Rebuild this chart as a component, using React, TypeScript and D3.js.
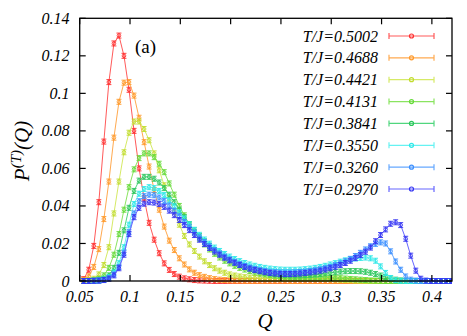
import React from "react";
import * as d3 from "d3";

// Q grid: 0.054, 0.059, ... 0.419 (74 points)
const qStart = 0.054;
const qStep = 0.005;

const temps = ["0.5002", "0.4688", "0.4421", "0.4131", "0.3841", "0.3550", "0.3260", "0.2970"];

const p5002 = [
  0.001, 0.006, 0.0187, 0.042, 0.0743, 0.106, 0.1266, 0.1308, 0.12, 0.1019,
  0.08, 0.06, 0.044, 0.031, 0.022, 0.0148, 0.0094, 0.0059, 0.0037, 0.0023,
  0.0014, 0.0009, 0.0005, 0.0003, 0.0002, 0.0001, 0, 0, 0, 0,
  0, 0, 0, 0, 0, 0, 0, 0, 0, 0,
  0, 0, 0, 0, 0, 0, 0, 0, 0, 0,
  0, 0, 0, 0, 0, 0, 0, 0, 0, 0,
  0, 0, 0, 0, 0, 0, 0, 0, 0, 0,
  0, 0, 0, 0,
];
const p4688 = [
  0.0006, 0.0025, 0.0075, 0.017, 0.033, 0.053, 0.0764, 0.0955, 0.1057, 0.106,
  0.0988, 0.087, 0.074, 0.061, 0.0485, 0.038, 0.029, 0.0215, 0.0165, 0.0121,
  0.0088, 0.0062, 0.0044, 0.0031, 0.0022, 0.0015, 0.001, 0.0007, 0.0005, 0.0003,
  0.0002, 0.0002, 0.0001, 0.0001, 0.0001, 0.0001, 0.0001, 0.0001, 0.0001, 0.0001,
  0.0001, 0, 0, 0, 0, 0, 0, 0, 0, 0,
  0, 0, 0, 0, 0, 0, 0, 0, 0, 0,
  0, 0, 0, 0, 0, 0, 0, 0, 0, 0,
  0, 0, 0, 0,
];
const p4421 = [
  0.0001, 0.0003, 0.0012, 0.0035, 0.0085, 0.018, 0.036, 0.053, 0.0686, 0.079,
  0.085, 0.085, 0.081, 0.075, 0.068, 0.059, 0.051, 0.044, 0.037, 0.03,
  0.024, 0.0195, 0.016, 0.013, 0.0105, 0.0085, 0.0068, 0.0055, 0.0044, 0.0035,
  0.0029, 0.0024, 0.002, 0.0018, 0.0016, 0.0015, 0.0014, 0.0014, 0.0013, 0.0013,
  0.0013, 0.0013, 0.0013, 0.0013, 0.0013, 0.0013, 0.0012, 0.0012, 0.0011, 0.001,
  0.0009, 0.0007, 0.0005, 0.0004, 0.0002, 0.0001, 0, 0, 0, 0,
  0, 0, 0, 0, 0, 0, 0, 0, 0, 0,
  0, 0, 0, 0,
];
const p4131 = [
  0, 0.0001, 0.0004, 0.0012, 0.003, 0.007, 0.014, 0.025, 0.038, 0.05,
  0.0595, 0.0655, 0.068, 0.068, 0.066, 0.0625, 0.058, 0.052, 0.046, 0.04,
  0.035, 0.03, 0.026, 0.0225, 0.0195, 0.0168, 0.0145, 0.0125, 0.0108, 0.0094,
  0.0081, 0.007, 0.0061, 0.0053, 0.0046, 0.004, 0.0035, 0.0031, 0.0028, 0.0025,
  0.0023, 0.0022, 0.0021, 0.002, 0.002, 0.002, 0.002, 0.002, 0.0019, 0.0018,
  0.0017, 0.0015, 0.0013, 0.0011, 0.0009, 0.0007, 0.0005, 0.0003, 0.0002, 0.0001,
  0, 0, 0, 0, 0, 0, 0, 0, 0, 0,
  0, 0, 0, 0,
];
const p3841 = [
  0, 0, 0.0001, 0.0004, 0.0012, 0.003, 0.007, 0.015, 0.027, 0.039,
  0.048, 0.0535, 0.0555, 0.0555, 0.0545, 0.0525, 0.0495, 0.046, 0.042, 0.038,
  0.034, 0.0303, 0.027, 0.024, 0.0212, 0.0188, 0.0165, 0.0145, 0.0128, 0.0113,
  0.01, 0.0088, 0.0077, 0.0067, 0.0059, 0.0052, 0.0045, 0.004, 0.0036, 0.0033,
  0.0031, 0.003, 0.003, 0.003, 0.0031, 0.0033, 0.0035, 0.0038, 0.0041, 0.0044,
  0.0047, 0.005, 0.0052, 0.0053, 0.0053, 0.0052, 0.0049, 0.0044, 0.0037, 0.0029,
  0.0021, 0.0013, 0.0007, 0.0003, 0.0001, 0, 0, 0, 0, 0,
  0, 0, 0, 0,
];
const p3550 = [
  0, 0, 0.0001, 0.0003, 0.0008, 0.002, 0.0045, 0.0095, 0.018, 0.03,
  0.041, 0.0465, 0.049, 0.05, 0.0495, 0.048, 0.0458, 0.043, 0.0398, 0.0365,
  0.0333, 0.0302, 0.0273, 0.0246, 0.0221, 0.0199, 0.0178, 0.016, 0.0144, 0.013,
  0.0117, 0.0106, 0.0096, 0.0088, 0.0081, 0.0075, 0.007, 0.0066, 0.0063, 0.0061,
  0.006, 0.006, 0.006, 0.0061, 0.0063, 0.0066, 0.007, 0.0075, 0.0081, 0.0088,
  0.0095, 0.0103, 0.011, 0.0116, 0.012, 0.0123, 0.0125, 0.0121, 0.0108, 0.0078,
  0.0043, 0.0016, 0.0004, 0.0001, 0, 0, 0, 0, 0, 0,
  0, 0, 0, 0,
];
const p3260 = [
  0, 0, 0.0001, 0.0002, 0.0006, 0.0015, 0.0035, 0.0075, 0.015, 0.026,
  0.036, 0.0425, 0.0452, 0.046, 0.0457, 0.0445, 0.0426, 0.0402, 0.0374, 0.0345,
  0.0315, 0.0286, 0.0258, 0.0232, 0.0208, 0.0186, 0.0165, 0.0147, 0.013, 0.0115,
  0.0102, 0.009, 0.008, 0.0071, 0.0064, 0.0058, 0.0053, 0.0049, 0.0047, 0.0045,
  0.0045, 0.0045, 0.0046, 0.0048, 0.005, 0.0053, 0.0057, 0.0062, 0.0068, 0.0075,
  0.0084, 0.0094, 0.0105, 0.0118, 0.0133, 0.015, 0.0168, 0.0185, 0.0198, 0.0206,
  0.02, 0.0158, 0.0104, 0.006, 0.0024, 0.0007, 0.0002, 0, 0, 0,
  0, 0, 0, 0,
];
const p2970 = [
  0, 0, 0.0001, 0.0002, 0.0005, 0.0012, 0.003, 0.0068, 0.014, 0.025,
  0.034, 0.039, 0.0412, 0.042, 0.0418, 0.041, 0.0395, 0.0375, 0.0351, 0.0325,
  0.0298, 0.0271, 0.0245, 0.022, 0.0197, 0.0176, 0.0157, 0.014, 0.0124, 0.011,
  0.0097, 0.0085, 0.0075, 0.0066, 0.0058, 0.0052, 0.0047, 0.0043, 0.004, 0.0038,
  0.0037, 0.0037, 0.0038, 0.004, 0.0043, 0.0046, 0.005, 0.0055, 0.0061, 0.0068,
  0.0076, 0.0085, 0.0096, 0.0108, 0.0122, 0.0138, 0.0156, 0.0178, 0.0212, 0.0245,
  0.0275, 0.0305, 0.0313, 0.0298, 0.0225, 0.0135, 0.0055, 0.0012, 0.0002, 0,
  0, 0, 0, 0,
];

const seriesValues = [p5002, p4688, p4421, p4131, p3841, p3550, p3260, p2970];
const lineColors = ["#ff5a5a", "#ffaa50", "#d6ea66", "#8ae460", "#50d67e", "#66f2f2", "#66a8ff", "#6666ff"];
const markColors = ["#ff3030", "#ff9a2a", "#c2dc30", "#66da3a", "#2cc65c", "#2ee8e8", "#3a8eff", "#3434f2"];

const xTicks = [0.05, 0.1, 0.15, 0.2, 0.25, 0.3, 0.35, 0.4];
const yTicks = [0, 0.02, 0.04, 0.06, 0.08, 0.1, 0.12, 0.14];

const W = 467;
const H = 336;
const plot = { left: 79.7, right: 452, top: 18.3, bottom: 281 };
const serifStyle = { fontFamily: '"Times New Roman", "Liberation Serif", Times, serif' };
const italicStyle = { ...serifStyle, fontStyle: "italic" };

export default function App() {
  const x = d3.scaleLinear().domain([0.05, 0.42]).range([plot.left, plot.right]);
  const y = d3.scaleLinear().domain([0, 0.14]).range([plot.bottom, plot.top]);

  const series = seriesValues.map((vals) =>
    vals.map((v, i) => ({ q: qStart + qStep * i, p: v }))
  );
  const line = d3
    .line<{ q: number; p: number }>()
    .x((d) => x(d.q))
    .y((d) => y(d.p));

  const tick = 6;
  const legendX = 378;
  const legendY0 = 36;
  const legendDy = 21.86;

  return (
    <svg
      width={W}
      height={H}
      style={{ position: "absolute", left: 0, top: 0, background: "#fff" }}
    >
      <defs>
        <clipPath id="plotClip">
          <rect x={plot.left} y={plot.top - 4} width={plot.right - plot.left} height={plot.bottom - plot.top + 8} />
        </clipPath>
      </defs>

      {/* series */}
      <g clipPath="url(#plotClip)">
        {series.map((s, si) => (
          <g key={si}>
            <path d={line(s) || ""} fill="none" stroke={lineColors[si]} strokeWidth={1} />
            {s.map((d, i) => {
              const cx = x(d.q);
              const cy = y(d.p);
              return (
                <g key={i} stroke={markColors[si]} strokeWidth={0.9} fill="none">
                  <line x1={cx} x2={cx} y1={cy - 2.5} y2={cy + 2.5} />
                  <line x1={cx - 2.5} x2={cx + 2.5} y1={cy - 2.5} y2={cy - 2.5} />
                  <line x1={cx - 2.5} x2={cx + 2.5} y1={cy + 2.5} y2={cy + 2.5} />
                  <circle cx={cx} cy={cy} r={1.8} />
                </g>
              );
            })}
          </g>
        ))}
      </g>

      {/* frame */}
      <rect
        x={plot.left}
        y={plot.top}
        width={plot.right - plot.left}
        height={plot.bottom - plot.top}
        fill="none"
        stroke="#000"
        strokeWidth={1.3}
      />

      {/* ticks */}
      <g stroke="#000" strokeWidth={1.2}>
        {xTicks.map((t) => (
          <g key={t}>
            <line x1={x(t)} x2={x(t)} y1={plot.bottom} y2={plot.bottom - tick} />
            <line x1={x(t)} x2={x(t)} y1={plot.top} y2={plot.top + tick} />
          </g>
        ))}
        {yTicks.map((t) => (
          <g key={t}>
            <line x1={plot.left} x2={plot.left + tick} y1={y(t)} y2={y(t)} />
            <line x1={plot.right} x2={plot.right - tick} y1={y(t)} y2={y(t)} />
          </g>
        ))}
      </g>

      {/* tick labels */}
      <g style={italicStyle} fontSize={16} fill="#000">
        {xTicks.map((t) => (
          <text key={t} x={x(t)} y={302} textAnchor="middle">
            {d3.format("~g")(t)}
          </text>
        ))}
        {yTicks.map((t) => (
          <text key={t} x={69.5} y={y(t) + 5.5} textAnchor="end">
            {d3.format("~g")(t)}
          </text>
        ))}
      </g>

      {/* axis labels */}
      <text x={265} y={328} textAnchor="middle" style={italicStyle} fontSize={21}>
        Q
      </text>
      <text
        transform="translate(29,151) rotate(-90)"
        textAnchor="middle"
        style={italicStyle}
        fontSize={21}
      >
        P
        <tspan fontSize={15} dy={-8}>(T)</tspan>
        <tspan dy={8}>(Q)</tspan>
      </text>

      <text x={135} y={53} style={serifStyle} fontSize={19}>
        (a)
      </text>

      {/* legend */}
      <g>
        {temps.map((t, i) => {
          const ly = legendY0 + i * legendDy;
          return (
            <g key={t}>
              <text x={legendX} y={ly + 5.5} textAnchor="end" style={italicStyle} fontSize={16}>
                {`T/J=${t}`}
              </text>
              <g stroke={lineColors[i]} strokeWidth={1.2} fill="none">
                <line x1={389} x2={434} y1={ly} y2={ly} />
                <line x1={389} x2={389} y1={ly - 3} y2={ly + 3} />
                <line x1={434} x2={434} y1={ly - 3} y2={ly + 3} />
                <circle cx={411.5} cy={ly} r={2} stroke={markColors[i]} />
              </g>
            </g>
          );
        })}
      </g>
    </svg>
  );
}
